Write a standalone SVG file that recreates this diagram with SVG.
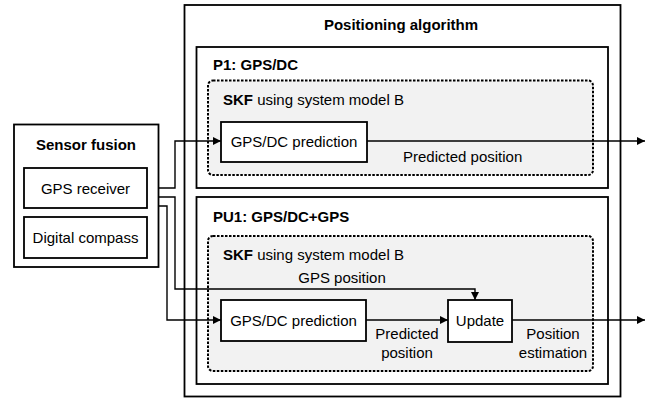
<svg xmlns="http://www.w3.org/2000/svg" width="651" height="399" viewBox="0 0 651 399">
<style>
text{font-family:"Liberation Sans",Arial,sans-serif;font-size:15px;fill:#000}
.b{font-weight:bold}
.m{text-anchor:middle}
.box{fill:#fff;stroke:#000;stroke-width:1.8}
.skf{fill:#f2f2f2;stroke:#000;stroke-width:2;stroke-dasharray:2.5 1.5}
.c{fill:none;stroke:#000;stroke-width:1.4}
</style>
<defs>
<marker id="ah" viewBox="0 0 10 10" refX="10" refY="5" markerWidth="9" markerHeight="8" markerUnits="userSpaceOnUse" orient="auto">
<path d="M0,0 L10,5 L0,10 z" fill="#000"/>
</marker>
</defs>
<rect width="651" height="399" fill="#fff"/>
<g id="positioning-algorithm">
<rect class="box" x="184.5" y="5" width="436" height="391.5" stroke-width="2"/>
<text class="b m" x="401" y="30">Positioning algorithm</text>
</g>
<g id="p1">
<rect class="box" x="196.5" y="47" width="411.5" height="141"/>
<text class="b" x="213" y="70">P1: GPS/DC</text>
</g>
<g id="p1-skf">
<rect class="skf" x="208" y="80.5" width="385" height="94.5" rx="5"/>
<text x="223" y="105"><tspan class="b">SKF</tspan> using system model B</text>
</g>
<g id="p1-prediction">
<rect class="box" x="221" y="122" width="146" height="40"/>
<text class="m" x="294" y="147">GPS/DC prediction</text>
</g>
<g id="pu1">
<rect class="box" x="196.5" y="197" width="411.5" height="187"/>
<text class="b" x="213" y="222">PU1: GPS/DC+GPS</text>
</g>
<g id="pu1-skf">
<rect class="skf" x="208" y="236" width="385" height="135" rx="5"/>
<text x="223" y="260"><tspan class="b">SKF</tspan> using system model B</text>
</g>
<g id="pu1-prediction">
<rect class="box" x="221" y="300" width="145" height="41"/>
<text class="m" x="293.5" y="325.5">GPS/DC prediction</text>
</g>
<g id="update">
<rect class="box" x="448" y="300" width="64" height="42"/>
<text class="m" x="480" y="325.5">Update</text>
</g>
<g id="sensor-fusion">
<rect class="box" x="14" y="124.5" width="144.5" height="142.5"/>
<text class="b m" x="86" y="150">Sensor fusion</text>
</g>
<g id="gps-receiver">
<rect class="box" x="24" y="168" width="123" height="40"/>
<text class="m" x="85.5" y="193.5">GPS receiver</text>
</g>
<g id="digital-compass">
<rect class="box" x="24" y="217" width="123" height="41"/>
<text class="m" x="85.5" y="243">Digital compass</text>
</g>
<g id="connectors">
<path class="c" d="M159,188 H175 V141 H221" marker-end="url(#ah)"/>
<path class="c" d="M159,197 H175 V289 H475 V300" marker-end="url(#ah)"/>
<path class="c" d="M159,206 H167 V320 H221" marker-end="url(#ah)"/>
<path class="c" d="M367,141 H645" marker-end="url(#ah)"/>
<path class="c" d="M366,320 H448" marker-end="url(#ah)"/>
<path class="c" d="M512,320 H645" marker-end="url(#ah)"/>
<text class="m" x="342" y="283">GPS position</text>
<text x="403" y="162">Predicted position</text>
<text class="m" x="407" y="339">Predicted</text>
<text class="m" x="407" y="358">position</text>
<text class="m" x="553" y="339">Position</text>
<text class="m" x="553" y="358">estimation</text>
</g>
</svg>
